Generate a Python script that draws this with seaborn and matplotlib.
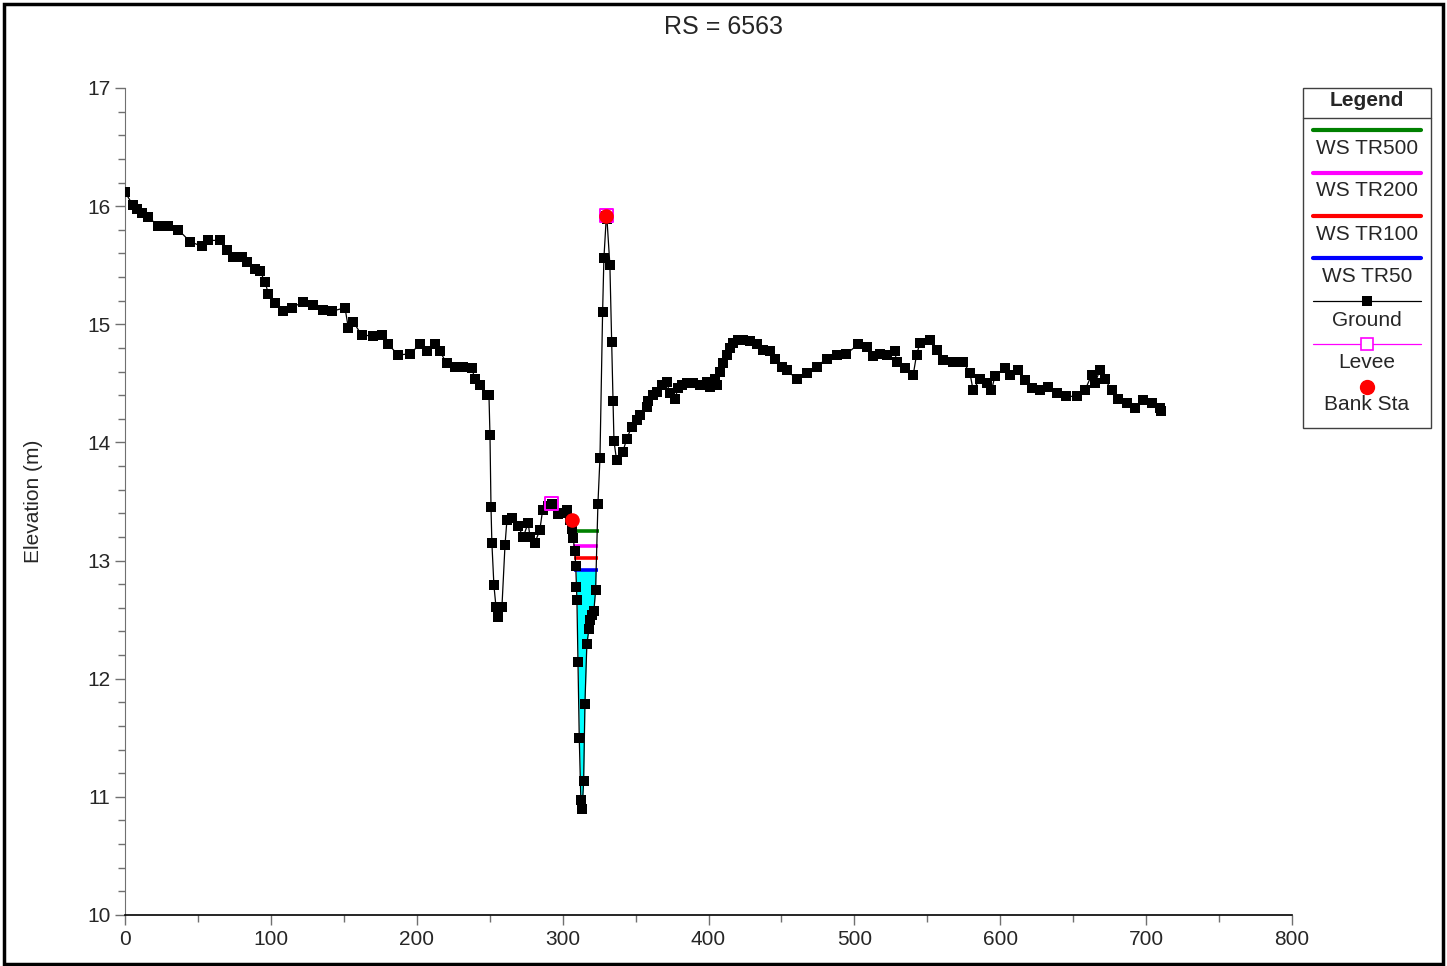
import numpy as np
import pandas as pd
import matplotlib
matplotlib.use("Agg")
import matplotlib.pyplot as plt
from matplotlib.lines import Line2D
from matplotlib.patches import Rectangle
import seaborn as sns

# Ground profile (station m, elevation m)
ground_sta = [0.0, 5.3, 8.0, 11.4, 16.0, 22.8, 29.7, 36.5, 44.6, 52.6, 57.1, 65.1, 69.7, 74.2, 80.0,
              83.4, 89.1, 92.5, 96.0, 98.2, 102.8, 108.5, 114.3, 122.2, 129.1, 135.9, 141.7, 150.8,
              153.1, 156.5, 162.2, 170.2, 175.9, 180.5, 187.3, 195.3, 202.2, 206.8, 212.5, 215.9,
              220.5, 226.2, 231.9, 237.6, 239.9, 243.3, 247.9, 249.5, 250.2, 250.9, 251.5, 252.9,
              254.3, 255.7, 257.0, 258.4, 260.5, 261.8, 265.0, 269.6, 273.0, 276.4, 277.6, 281.0,
              284.4, 286.3, 289.9, 292.5, 297.0, 299.5, 302.7, 305.0, 306.4, 307.2, 308.4, 309.0,
              309.5, 309.8, 310.5, 311.4, 312.5, 313.4, 314.4, 315.3, 316.6, 318.0, 318.7, 320.1,
              321.4, 322.6, 324.2, 325.6, 327.4, 328.3, 330.0, 330.4, 332.4, 333.6, 334.5, 335.2,
              337.0, 341.3, 343.9, 347.3, 350.7, 353.0, 357.6, 358.5, 361.9, 364.4, 367.9, 371.3,
              373.5, 377.0, 379.2, 381.6, 385.0, 389.5, 394.1, 398.7, 401.0, 404.4, 405.6, 407.8,
              410.1, 412.4, 414.7, 416.9, 420.4, 423.8, 428.4, 433.0, 437.5, 442.1, 445.5, 450.1,
              453.5, 460.4, 467.2, 474.1, 480.9, 487.8, 494.6, 502.6, 508.4, 512.9, 517.5, 522.1,
              527.8, 528.9, 534.6, 540.3, 542.6, 544.9, 551.7, 556.3, 560.9, 567.7, 574.6, 579.2,
              581.4, 586.0, 590.6, 594.0, 596.3, 603.2, 606.6, 612.3, 616.9, 621.5, 627.1, 632.8,
              638.6, 645.4, 652.3, 658.0, 662.6, 664.8, 668.3, 671.7, 676.3, 680.8, 686.6, 692.3,
              697.9, 703.7, 709.4, 710.0]
ground_elev = [16.12, 16.01, 15.98, 15.94, 15.91, 15.83, 15.83, 15.80, 15.70, 15.66, 15.71, 15.71,
               15.63, 15.57, 15.57, 15.53, 15.47, 15.45, 15.36, 15.26, 15.18, 15.11, 15.14, 15.19,
               15.16, 15.12, 15.11, 15.14, 14.97, 15.02, 14.91, 14.90, 14.91, 14.83, 14.74, 14.75,
               14.83, 14.77, 14.83, 14.77, 14.67, 14.64, 14.64, 14.63, 14.54, 14.49, 14.40, 14.40,
               14.06, 13.45, 13.15, 12.79, 12.61, 12.52, 12.61, 12.61, 13.13, 13.34, 13.36, 13.29,
               13.20, 13.32, 13.20, 13.15, 13.26, 13.43, 13.46, 13.48, 13.39, 13.40, 13.43, 13.34,
               13.27, 13.19, 13.08, 12.95, 12.78, 12.67, 12.14, 11.50, 10.97, 10.90, 11.13, 11.79,
               12.29, 12.42, 12.50, 12.54, 12.57, 12.75, 13.48, 13.87, 15.10, 15.56, 15.92, 15.89,
               15.50, 14.85, 14.35, 14.01, 13.85, 13.92, 14.03, 14.13, 14.19, 14.23, 14.30, 14.35,
               14.40, 14.43, 14.49, 14.51, 14.42, 14.37, 14.46, 14.49, 14.50, 14.50, 14.49, 14.51,
               14.47, 14.54, 14.49, 14.60, 14.67, 14.74, 14.80, 14.84, 14.87, 14.87, 14.86, 14.83,
               14.78, 14.77, 14.71, 14.64, 14.61, 14.54, 14.59, 14.64, 14.71, 14.74, 14.75, 14.83,
               14.81, 14.73, 14.75, 14.74, 14.77, 14.68, 14.63, 14.57, 14.74, 14.84, 14.87, 14.78,
               14.70, 14.68, 14.68, 14.59, 14.44, 14.54, 14.50, 14.44, 14.56, 14.63, 14.57, 14.61,
               14.53, 14.46, 14.44, 14.47, 14.42, 14.39, 14.39, 14.44, 14.57, 14.50, 14.61, 14.54,
               14.44, 14.37, 14.33, 14.29, 14.36, 14.33, 14.29, 14.27]

levee_sta = [292.5, 330.0]
levee_elev = [13.48, 15.92]
bank_sta = [306.2, 330.0]
bank_elev = [13.34, 15.92]

ws_names = ["WS TR500", "WS TR200", "WS TR100", "WS TR50"]
ws_elev = [13.25, 13.12, 13.02, 12.92]
ws_colors = ["green", "magenta", "red", "blue"]

df = pd.DataFrame({"Station": ground_sta, "Elevation": ground_elev})
sta = np.array(ground_sta)
z = np.array(ground_elev)


def channel_edges(ws, lo=304.0, hi=330.0):
    # where the water surface cuts the ground inside the main channel
    xs = []
    for i in range(len(sta) - 1):
        if sta[i] < lo or sta[i + 1] > hi:
            continue
        if (z[i] - ws) * (z[i + 1] - ws) < 0:
            t = (ws - z[i]) / (z[i + 1] - z[i])
            xs.append(sta[i] + t * (sta[i + 1] - sta[i]))
    return min(xs), max(xs)


W, H = 1447, 966
fig = plt.figure(figsize=(W / 100, H / 100), dpi=100)
sns.set_style("ticks")
plt.rcParams["font.family"] = ["Liberation Sans", "DejaVu Sans"]

ax = fig.add_axes([125 / W, 1 - 915 / H, (1292 - 125) / W, (915 - 88) / H])

# water fill for the lowest profile
xl, xr = channel_edges(ws_elev[-1])
inside = (sta > xl) & (sta < xr)
fx = np.concatenate([[xl], sta[inside], [xr]])
fz = np.concatenate([[ws_elev[-1]], z[inside], [ws_elev[-1]]])
ax.fill_between(fx, fz, ws_elev[-1], color="cyan", lw=0, zorder=1)

for ws, c in zip(ws_elev, ws_colors):
    a, b = channel_edges(ws)
    ax.plot([a - 1.0, b + 1.0], [ws, ws], color=c, lw=2.6, zorder=2, solid_capstyle="butt")

sns.lineplot(data=df, x="Station", y="Elevation", sort=False, color="black", lw=0.9,
             marker="s", markersize=7.5, markeredgewidth=0, ax=ax, zorder=3)
sns.scatterplot(x=levee_sta, y=levee_elev, marker="s", s=90, facecolor="none",
                edgecolor="magenta", linewidth=1.4, ax=ax, zorder=4)
sns.scatterplot(x=bank_sta, y=bank_elev, marker="o", s=110, color="red",
                edgecolor="red", linewidth=0, ax=ax, zorder=5)

ax.set_xlim(0, 800)
ax.set_ylim(10, 17)
ax.set_xticks(range(0, 801, 100))
ax.set_xticks(range(50, 800, 100), minor=True)
ax.set_yticks(range(10, 18))
ax.set_yticks(np.arange(10, 17.01, 0.2), minor=True)
ax.set_xlabel("")
ax.set_ylabel("Elevation (m)", fontsize=15, labelpad=32)
ax.tick_params(which="both", direction="out", color="#707070", labelsize=15, width=1)
ax.tick_params(which="major", length=7)
ax.tick_params(which="minor", length=5)
sns.despine(ax=ax)
ax.spines["left"].set_color("#707070")
ax.spines["bottom"].set_color("black")
ax.spines["bottom"].set_linewidth(1.2)

fig.text(0.5, 1 - 27 / H, "RS = 6563", ha="center", va="center", fontsize=18)

# outer frame
fig.patches.append(Rectangle((4 / W, 2 / H), 1 - 8 / W, 1 - 6 / H, transform=fig.transFigure,
                             fill=False, edgecolor="black", lw=2.5))


# legend drawn in HEC-RAS style, label under each symbol
def px(x, y):
    return x / W, 1 - y / H


bx0, bx1, by0, by1 = 1303, 1431, 88, 428
fig.patches.append(Rectangle(px(bx0, by1), (bx1 - bx0) / W, (by1 - by0) / H,
                             transform=fig.transFigure, fill=False, edgecolor="#404040", lw=1))
fig.lines.append(Line2D([bx0 / W, bx1 / W], [1 - 118 / H] * 2, transform=fig.transFigure,
                        color="#404040", lw=1))
cx = (bx0 + bx1) / 2
fig.text(*px(cx, 101), "Legend", ha="center", va="center", fontsize=15, fontweight="bold")

x0, x1 = 1313, 1421
rows = [130, 173, 216, 258]
for name, c, yy in zip(ws_names, ws_colors, rows):
    fig.lines.append(Line2D([x0 / W, x1 / W], [1 - yy / H] * 2, transform=fig.transFigure,
                            color=c, lw=3, solid_capstyle="round"))
    fig.text(*px(cx, yy + 18), name, ha="center", va="center", fontsize=15)

fig.lines.append(Line2D([x0 / W, x1 / W], [1 - 301 / H] * 2, transform=fig.transFigure,
                        color="black", lw=0.9))
fig.lines.append(Line2D([cx / W], [1 - 301 / H], transform=fig.transFigure, color="black",
                        marker="s", markersize=6.5, markeredgewidth=0))
fig.text(*px(cx, 320), "Ground", ha="center", va="center", fontsize=15)

fig.lines.append(Line2D([x0 / W, x1 / W], [1 - 344 / H] * 2, transform=fig.transFigure,
                        color="magenta", lw=0.9))
fig.lines.append(Line2D([cx / W], [1 - 344 / H], transform=fig.transFigure, marker="s",
                        markersize=9, markerfacecolor="white", markeredgecolor="magenta",
                        markeredgewidth=1.2, linestyle="none"))
fig.text(*px(cx, 362), "Levee", ha="center", va="center", fontsize=15)

fig.lines.append(Line2D([cx / W], [1 - 387 / H], transform=fig.transFigure, marker="o",
                        markersize=10, color="red", linestyle="none"))
fig.text(*px(cx, 405), "Bank Sta", ha="center", va="center", fontsize=15)

fig.savefig("out.png", dpi=100)
